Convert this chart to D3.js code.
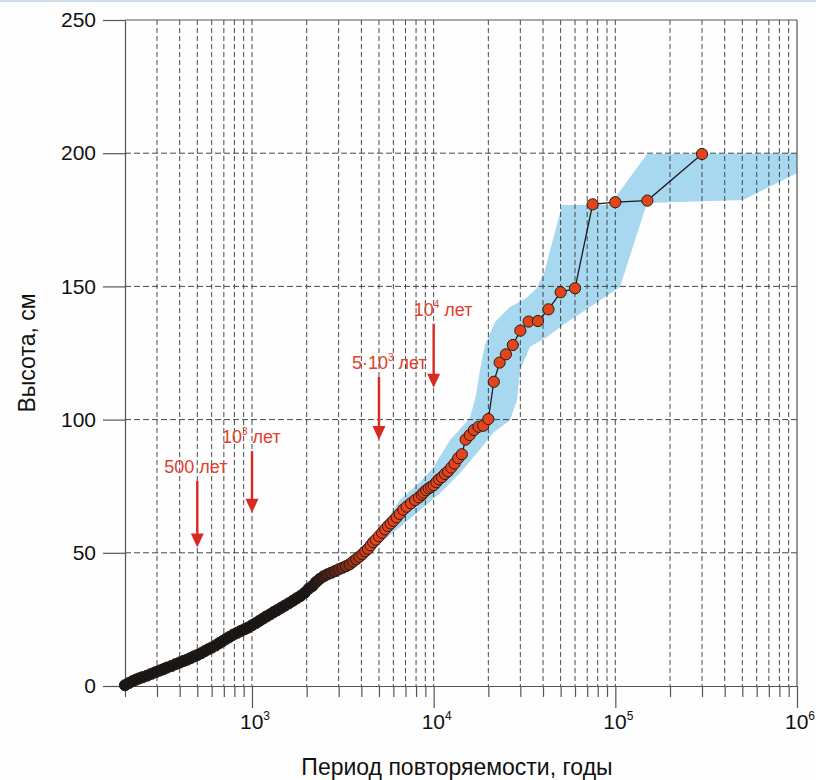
<!DOCTYPE html>
<html><head><meta charset="utf-8">
<script src="https://cdn.jsdelivr.net/npm/d3@7"></script>
<style>
body{margin:0;background:#fff}
svg{display:block}
text{font-family:Arial,"Liberation Sans",sans-serif}
</style>
</head><body>
<svg id="c" width="816" height="780"></svg>
<script>
// ---- data: return period (years) and height (cm) of the empirical points ----
const periods = [200,210,220,230,240,250,265,280,295,310,325,340,360,380,400,420,440,460,480,500,
  525,550,575,600,630,660,690,720,750,790,830,870,910,950,1000,1050,1100,1150,1200,1260,1320,1380,
  1450,1520,1600,1680,1760,1850,1950,2050,2150,2250,2360,2480,2600,2730,2860,3000,3150,3300,3450,
  3600,3750,3900,4050,4200,4350,4500,4650,4800,5000,5200,5400,5600,5800,6000,6250,6500,6800,7100,
  7500,7900,8300,8600,8800,9100,9400,9700,10000,10350,10700,11100,11540,12000,12500,13040,13640,
  14290,15000,15790,16670,17650,18750,20000,21430,23080,25000,27270,30000,33330,37500,42860,50000,
  60000,75000,100000,150000,300000];
const heights = [0.3,1.1,1.8,2.4,2.9,3.3,3.9,4.6,5.2,5.8,6.3,6.9,7.5,8.2,8.8,9.4,9.9,10.5,11.1,11.6,
  12.3,13.1,13.8,14.4,15.2,16.1,16.9,17.7,18.4,19.3,20.0,20.7,21.3,21.9,22.8,23.6,24.5,25.3,26.1,26.9,27.8,28.5,
  29.4,30.2,31.1,32.0,32.9,33.8,35.0,36.5,37.5,39.0,40.2,41.2,41.9,42.5,43.1,43.8,44.4,45.0,45.7,
  46.7,47.6,48.5,49.5,50.6,51.5,52.8,54.0,54.9,56.2,57.5,58.8,60.0,61.0,62.0,63.3,64.6,66.2,67.3,
  68.6,69.8,70.8,71.8,72.6,73.5,74.2,74.8,75.4,76.5,77.6,78.4,79.6,80.6,82.0,83.5,85.5,
  87.0,92.5,94.2,96.1,97.3,97.7,100.2,114.2,121.4,124.5,128.0,133.4,136.8,137.0,141.4,147.8,
  149.3,180.8,181.6,182.2,199.7];

// ---- confidence band (upper edge, then lower edge) ----
const bandUpperT = [4100,4460,5400,6530,8410,9920,12300,15850,17110,17990,19170,21760,26320,31830,37050,41020,50860,93460,149400,1000000];
const bandUpperH = [49,52.5,61.6,69.8,76.6,81.8,92.3,100.6,109.2,118.6,128,136.6,142.3,145.3,149.4,156.2,180.6,180.6,199.7,200];
const bandLowerT = [1000000,504400,149400,106100,72530,51520,42070,33910,29880,28760,26320,21210,17320,13960,10840,8410,6530,5070,4460];
const bandLowerH = [192.6,182.4,181.3,149.8,142.3,135.5,131,127.3,118.6,107.4,99.8,95,87.5,80,72.4,66,59.7,53.7,51.8];

// ---- axes ----
const yTicks = [0,50,100,150,200,250];
const xMajor = [1e3,1e4,1e5,1e6];
const xMajorExp = ["3","4","5","6"];

// ---- annotations ----
const annotPeriods = [500,1000,5000,10000];
const annotMain = ["500 лет","10","5·10","10"];
const annotSup = ["","3","3","4"];
const annotTail = [""," лет"," лет"," лет"];
const annotTextH = [80,91.2,119,139];
const annotTipH = [52,65,92.3,112];
const annotDx = [-33,-30,-27,-20];

const svg = d3.select("#c");
svg.append("rect").attr("width",816).attr("height",780).attr("fill","#fefefe");
svg.append("rect").attr("width",816).attr("height",2).attr("fill","#cfdced");

const x = d3.scaleLog().domain([200,1e6]).range([125,797]);
const y = d3.scaleLinear().domain([0,250]).range([686,20]);

// band
const bandPts = bandUpperT.map((t,i)=>[x(t),y(bandUpperH[i])])
  .concat(bandLowerT.map((t,i)=>[x(t),y(bandLowerH[i])]));
svg.append("path").attr("d", d3.line()(bandPts)+"Z").attr("fill","#a8d8ef");

// grid
const gridX = x.ticks().filter(v=>v>200 && v<1e6);
svg.append("g").selectAll("line").data(gridX).join("line")
  .attr("x1",d=>x(d)).attr("x2",d=>x(d)).attr("y1",y(250)).attr("y2",y(0))
  .attr("stroke","#333").attr("stroke-width",0.9).attr("stroke-dasharray","5,3");
svg.append("g").selectAll("line").data(yTicks.filter(v=>v>0 && v<250)).join("line")
  .attr("x1",x(200)).attr("x2",x(1e6)).attr("y1",d=>y(d)).attr("y2",d=>y(d))
  .attr("stroke","#333").attr("stroke-width",0.9).attr("stroke-dasharray","6,3");
svg.append("line").attr("x1",x(200)).attr("x2",x(1e6)).attr("y1",y(250)).attr("y2",y(250))
  .attr("stroke","#555").attr("stroke-width",1.2);
svg.append("line").attr("x1",x(1e6)).attr("x2",x(1e6)).attr("y1",y(250)).attr("y2",y(0))
  .attr("stroke","#555").attr("stroke-width",1.2);

// y axis
const yAx = svg.append("g").attr("transform",`translate(${x(200)},0)`)
  .call(d3.axisLeft(y).tickValues(yTicks).tickSize(22).tickSizeOuter(0).tickPadding(7));
yAx.selectAll("text").attr("font-size",21).attr("fill","#111").style("font-family","Arial, 'Liberation Sans', sans-serif");
yAx.selectAll("line,path").attr("stroke","#555").attr("stroke-width",1.2);

// x axis
const xAx = svg.append("g").attr("transform",`translate(0,${y(0)})`)
  .call(d3.axisBottom(x).tickValues(x.ticks()).tickFormat("").tickSize(11).tickSizeOuter(0));
xAx.selectAll("line,path").attr("stroke","#555").attr("stroke-width",1.2);
xAx.selectAll(".tick line").filter(d=>xMajor.includes(d)).attr("y2",22);
const xl = svg.append("g").selectAll("text").data(xMajor).join("text")
  .attr("x",d=>x(d)+3).attr("y",729).attr("text-anchor","middle").attr("font-size",21).attr("fill","#111");
xl.append("tspan").text("10");
xl.append("tspan").attr("dy",-9).attr("font-size",12).text((d,i)=>xMajorExp[i]);

// axis titles
svg.append("text").attr("x",457).attr("y",775).attr("text-anchor","middle")
  .attr("font-size",23).attr("fill","#111").text("Период повторяемости, годы");
svg.append("text").attr("transform",`translate(35,${y(125)}) rotate(-90)`).attr("text-anchor","middle")
  .attr("font-size",23).attr("fill","#111").text("Высота, см");

// line + points
const pts = periods.map((t,i)=>({t, h:heights[i]}));
svg.append("path").attr("d", d3.line().x(d=>x(d.t)).y(d=>y(d.h))(pts))
  .attr("fill","none").attr("stroke","#1a1a1a").attr("stroke-width",1.3);
const lo = Math.log10(2000), hi = Math.log10(4600);
const col = d3.interpolateRgb("#161616","#e2441c");
svg.append("g").selectAll("circle").data(pts).join("circle")
  .attr("cx",d=>x(d.t)).attr("cy",d=>y(d.h)).attr("r",5.6)
  .attr("fill",d=>col(Math.pow(Math.max(0,Math.min(1,(Math.log10(d.t)-lo)/(hi-lo))),1.3)))
  .attr("stroke","#2a1a14").attr("stroke-width",1);

// annotations
const red = "#d92a22";
annotPeriods.forEach((p,i)=>{
  const ax = x(p), ty = y(annotTextH[i]), tip = y(annotTipH[i]);
  const t = svg.append("text").attr("x",ax+annotDx[i]).attr("y",ty).attr("font-size",18).attr("fill","#e0402c");
  t.append("tspan").text(annotMain[i]);
  if(annotSup[i]){
    t.append("tspan").attr("dy",-8).attr("font-size",10).text(annotSup[i]);
    t.append("tspan").attr("dy",8).text(annotTail[i]);
  }
  svg.append("line").attr("x1",ax).attr("x2",ax).attr("y1",ty+8).attr("y2",tip-12)
    .attr("stroke",red).attr("stroke-width",2.4);
  svg.append("path").attr("d",`M${ax-6.5},${tip-14}L${ax+6.5},${tip-14}L${ax},${tip}Z`).attr("fill",red);
});
</script>
</body></html>
